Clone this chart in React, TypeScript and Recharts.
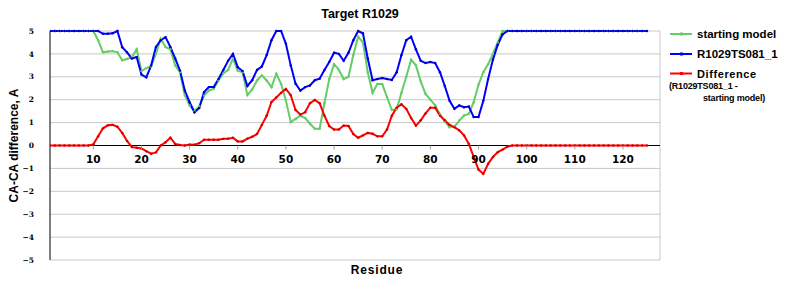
import React from 'react';
import { LineChart, Line, XAxis, YAxis, CartesianGrid, ReferenceLine } from 'recharts';

// Residue numbers 1..125
const residues: number[] = Array.from({ length: 125 }, (_, i) => i + 1);

const startingModel: number[] = [
  5, 5, 5, 5, 5, 5, 5, 5, 5, 5,
  4.6, 4.07, 4.1, 4.12, 4.07, 3.72, 3.78, 3.86, 4.2, 3.25,
  3.38, 3.45, 4.0, 4.66, 4.3, 4.2, 3.5, 3.2, 2.2, 1.75,
  1.5, 1.71, 2.18, 2.4, 2.47, 2.85, 3.15, 3.3, 3.79, 3.27,
  3.2, 2.2, 2.45, 2.84, 3.06, 2.84, 2.55, 3.13, 2.69, 1.97,
  1.02, 1.16, 1.3, 1.2, 0.95, 0.73, 0.73, 1.85, 2.9, 3.55,
  3.3, 2.9, 3.0, 3.95, 4.75, 4.5, 3.2, 2.3, 2.69, 2.69,
  2.11, 1.55, 1.58, 2.3, 3.0, 3.75, 3.5, 2.8, 2.25, 2.0,
  1.75, 1.35, 1.05, 0.8, 0.82, 1.09, 1.31, 1.38, 1.89, 2.65,
  3.2, 3.55, 4.0, 4.5, 5, 5, 5, 5, 5, 5,
  5, 5, 5, 5, 5, 5, 5, 5, 5, 5,
  5, 5, 5, 5, 5, 5, 5, 5, 5, 5,
  5, 5, 5, 5, 5,
];

const modelTS081: number[] = [
  5, 5, 5, 5, 5, 5, 5, 5, 5, 5,
  5, 4.88, 4.88, 4.9, 5.0, 4.29, 4.07, 3.8, 3.86, 3.1,
  2.98, 3.49, 4.3, 4.6, 4.73, 4.3, 3.8, 3.27, 2.4, 1.89,
  1.45, 1.64, 2.33, 2.55, 2.55, 2.9, 3.3, 3.7, 4.0, 3.42,
  3.25, 2.6, 2.85, 3.3, 3.45, 3.95, 4.6, 5.0, 5.0, 4.44,
  3.5, 2.7, 2.4, 2.55, 2.62, 2.85, 2.92, 3.3, 3.65, 4.05,
  4.0, 3.7, 4.05, 4.6, 5.0, 4.9, 3.8, 2.85, 2.9, 2.95,
  2.9, 2.86, 3.2, 3.95, 4.6, 4.75, 4.2, 3.7, 3.6, 3.65,
  3.6, 3.2, 2.6, 1.95, 1.6, 1.75, 1.67, 1.7, 1.24, 1.24,
  1.95, 2.9, 3.75, 4.4, 4.85, 5, 5, 5, 5, 5,
  5, 5, 5, 5, 5, 5, 5, 5, 5, 5,
  5, 5, 5, 5, 5, 5, 5, 5, 5, 5,
  5, 5, 5, 5, 5,
];

const difference: number[] = [
  0, 0, 0, 0, 0, 0, 0, 0, 0, 0.05,
  0.4, 0.75, 0.88, 0.9, 0.82, 0.55, 0.2, -0.07, -0.1, -0.13,
  -0.25, -0.36, -0.3, 0.0, 0.14, 0.34, 0.07, 0.02, 0.0, 0.04,
  0.03, 0.1, 0.25, 0.25, 0.25, 0.25, 0.29, 0.3, 0.34, 0.18,
  0.18, 0.3, 0.38, 0.5, 0.9, 1.3, 1.9, 2.1, 2.3, 2.47,
  2.2, 1.55, 1.35, 1.45, 1.85, 1.99, 1.85, 1.3, 0.85, 0.7,
  0.7, 0.87, 0.85, 0.5, 0.34, 0.44, 0.55, 0.51, 0.4, 0.4,
  0.7, 1.3, 1.65, 1.8, 1.6, 1.2, 0.87, 1.1, 1.4, 1.65,
  1.65, 1.3, 1.1, 0.9, 0.8, 0.66, 0.44, 0.07, -0.5, -1.05,
  -1.24, -0.8, -0.5, -0.29, -0.18, -0.05, 0, 0, 0, 0,
  0, 0, 0, 0, 0, 0, 0, 0, 0, 0,
  0, 0, 0, 0, 0, 0, 0, 0, 0, 0,
  0, 0, 0, 0, 0,
];

const xTicks: number[] = [10, 20, 30, 40, 50, 60, 70, 80, 90, 100, 110, 120];
const yTicks: number[] = [-5, -4, -3, -2, -1, 0, 1, 2, 3, 4, 5];

const title = 'Target R1029';
const xTitle = 'Residue';
const yTitle = 'CA-CA difference, A';
const seriesNames = ['starting model', 'R1029TS081_1', 'Difference'];
const diffNote1 = '(R1029TS081_1 -';
const diffNote2 = 'starting model)';

const data = residues.map((r, i) => ({
  residue: r,
  start: startingModel[i],
  model: modelTS081[i],
  diff: difference[i],
}));

const W = 784;
const H = 284;
const PLOT_TOP = 23;
const PLOT_BOTTOM = 252;
const PLOT_H = PLOT_BOTTOM - PLOT_TOP;
const GREEN = '#66cc66';
const BLUE = '#0000ff';
const RED = '#ff0000';
const FONT = '"Liberation Sans", Arial, sans-serif';

const XTick = (props: any) => {
  const { x, y, payload } = props;
  const zeroY = y - PLOT_H / 2;
  return (
    <g>
      <line x1={x} x2={x} y1={zeroY} y2={zeroY + 4} stroke="#a0a0a0" />
      <text
        x={x}
        y={zeroY + 17}
        textAnchor="middle"
        fontFamily='"DejaVu Sans", sans-serif'
        fontWeight="bold"
        fontSize={10.5}
        fill="#000"
      >
        {payload.value}
      </text>
    </g>
  );
};

const LegendRow = ({ y, color, label, spacing, size }: { y: number; color: string; label: string; spacing?: number; size?: number }) => (
  <g>
    <line x1={662} x2={684} y1={y} y2={y} stroke={color} strokeWidth={2} />
    <rect x={672} y={y - 1.5} width={3} height={3} fill={color} />
    <text x={689} y={y + 4} fontFamily={FONT} fontWeight="bold" fontSize={size ?? 11.5} letterSpacing={spacing ?? 0} fill="#000">
      {label}
    </text>
  </g>
);

export default function App() {
  return (
    <div style={{ position: 'relative', width: W, height: H }}>
      <LineChart width={W} height={H} data={data} margin={{ top: PLOT_TOP, right: 132, bottom: 0, left: 0 }}>
        <CartesianGrid vertical={false} stroke="#c8c8c8" strokeWidth={1} />
        <XAxis
          dataKey="residue"
          type="number"
          domain={[1, 127.7]}
          ticks={xTicks}
          axisLine={false}
          tickLine={false}
          tickSize={0}
          tickMargin={0}
          height={H - PLOT_BOTTOM}
          tick={<XTick />}
          allowDataOverflow
        />
        <YAxis
          type="number"
          domain={[-5, 5]}
          ticks={yTicks}
          width={42}
          axisLine={{ stroke: '#000', strokeWidth: 1 }}
          tickLine={false}
          tickSize={0}
          tickMargin={16}
          tickFormatter={(v: number) => String(v).replace('-', '\u2212')}
          tick={{ fontFamily: '"DejaVu Serif", serif', fontWeight: 'bold', fontSize: 7.5, fill: '#000' }}
          interval={0}
        />
        <ReferenceLine x={127.7} stroke="#c8c8c8" />
        <ReferenceLine y={0} stroke="#000" strokeWidth={1} />
        <Line
          type="linear"
          dataKey="start"
          stroke={GREEN}
          strokeWidth={2}
          dot={{ r: 1.2, fill: GREEN, stroke: 'none' }}
          isAnimationActive={false}
        />
        <Line
          type="linear"
          dataKey="model"
          stroke={BLUE}
          strokeWidth={2}
          dot={{ r: 1.2, fill: '#0000c0', stroke: 'none' }}
          isAnimationActive={false}
        />
        <Line
          type="linear"
          dataKey="diff"
          stroke={RED}
          strokeWidth={2}
          dot={{ r: 1.2, fill: '#d00000', stroke: 'none' }}
          isAnimationActive={false}
        />
      </LineChart>
      <svg
        width={W}
        height={H}
        style={{ position: 'absolute', left: 0, top: 0, pointerEvents: 'none', overflow: 'visible' }}
      >
        <text x={352} y={10} textAnchor="middle" fontFamily={FONT} fontWeight="bold" fontSize={12.5} fill="#000">
          {title}
        </text>
        <text
          x={10}
          y={137.5}
          transform="rotate(-90, 10, 137.5)"
          textAnchor="middle"
          fontFamily={FONT}
          fontWeight="bold"
          fontSize={12}
          fill="#000"
        >
          {yTitle}
        </text>
        <text x={369} y={266} textAnchor="middle" fontFamily={FONT} fontWeight="bold" fontSize={12} letterSpacing={0.8} fill="#000">
          {xTitle}
        </text>
        <LegendRow y={26} color={GREEN} label={seriesNames[0]} />
        <LegendRow y={46} color={BLUE} label={seriesNames[1]} />
        <LegendRow y={65.5} color={RED} label={seriesNames[2]} spacing={0.6} size={11} />
        <text x={661} y={81} fontFamily={FONT} fontWeight="bold" fontSize={9} letterSpacing={-0.2} fill="#000">
          {diffNote1}
        </text>
        <text x={695} y={93} fontFamily={FONT} fontWeight="bold" fontSize={9} letterSpacing={-0.2} fill="#000">
          {diffNote2}
        </text>
      </svg>
    </div>
  );
}
